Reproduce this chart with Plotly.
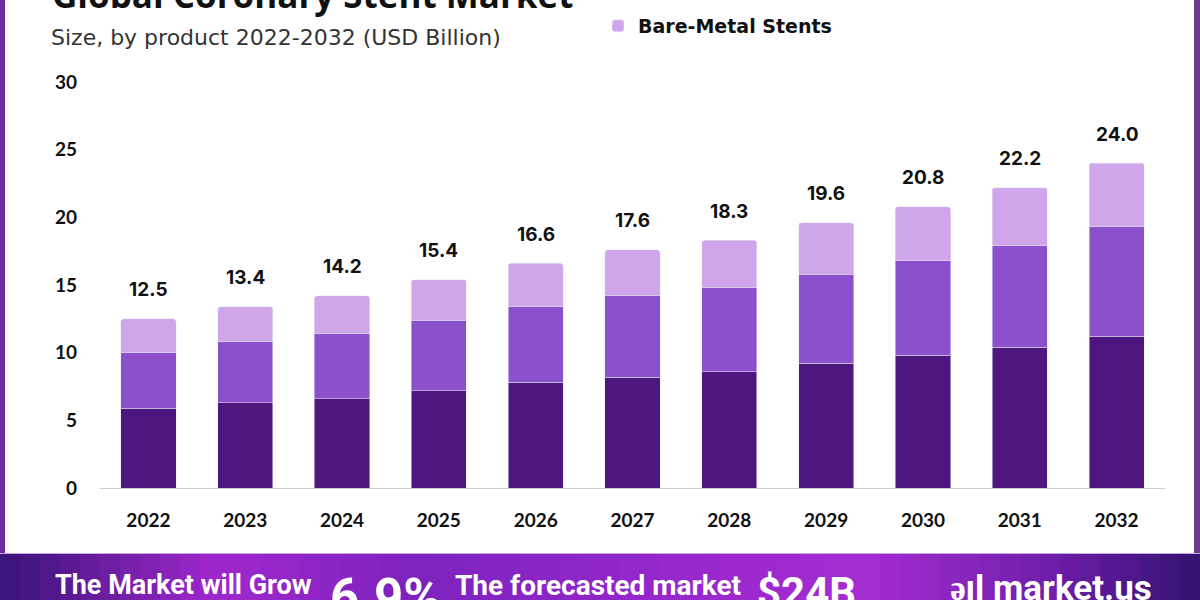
import plotly.graph_objects as go

# ---------------- data ----------------
years = ["2022", "2023", "2024", "2025", "2026", "2027", "2028", "2029", "2030", "2031", "2032"]
drug_eluting = [5.9, 6.3, 6.6, 7.2, 7.8, 8.2, 8.6, 9.2, 9.8, 10.4, 11.2]
bioresorbable = [4.1, 4.5, 4.8, 5.2, 5.6, 6.0, 6.2, 6.6, 7.0, 7.5, 8.1]
bare_metal = [2.5, 2.6, 2.8, 3.0, 3.2, 3.4, 3.5, 3.8, 4.0, 4.3, 4.7]
totals = [12.5, 13.4, 14.2, 15.4, 16.6, 17.6, 18.3, 19.6, 20.8, 22.2, 24.0]
y_ticks = [0, 5, 10, 15, 20, 25, 30]

title = "Global Coronary Stent Market"
subtitle = "Size, by product 2022-2032 (USD Billion)"

# ---------------- layout geometry ----------------
W, H = 1200, 600
ML, MR, MT, MB = 100, 35, 82, 112
PW, PH = W - ML - MR, H - MT - MB


def px2x(px):
    return (px - ML) / PW


def px2y(py):
    return (H - MB - py) / PH


C_DARK = "#4f1680"
C_MED = "#8c50cc"
C_LIGHT = "#d0a6ea"

fig = go.Figure()
fig.add_trace(go.Bar(x=years, y=drug_eluting, name="Drug-Eluting Stents",
                     marker=dict(color=C_DARK), showlegend=False))
fig.add_trace(go.Bar(x=years, y=bioresorbable, name="Bioresorbable Vascular Scaffolds",
                     marker=dict(color=C_MED), showlegend=False))
fig.add_trace(go.Bar(x=years, y=bare_metal, name="Bare-Metal Stents",
                     marker=dict(color=C_LIGHT), showlegend=True))

annotations = []
for i, t in enumerate(totals):
    annotations.append(dict(x=i, y=t, xref="x", yref="y", text=f"{t:.1f}",
                            showarrow=False, yanchor="middle", yshift=29,
                            font=dict(family="Inter", size=19, color="#111111", weight=700)))

# title (cut at top) and subtitle
annotations.append(dict(x=px2x(50), y=px2y(20), xref="paper", yref="paper", text=title,
                        showarrow=False, xanchor="left", yanchor="bottom",
                        font=dict(family="Open Sans", size=35, color="#111111", weight=700)))
annotations.append(dict(x=px2x(49), y=px2y(37), xref="paper", yref="paper", text=subtitle,
                        showarrow=False, xanchor="left", yanchor="middle",
                        font=dict(family="DejaVu Sans", size=22, color="#333333")))

# bottom banner texts (cut at bottom edge)
banner_font = dict(family="Roboto", size=27, color="white", weight=700)
annotations.append(dict(x=px2x(53), y=px2y(567), xref="paper", yref="paper",
                        text="The Market will Grow", showarrow=False, xanchor="left",
                        yanchor="top", font=banner_font))
annotations.append(dict(x=px2x(328), y=px2y(566), xref="paper", yref="paper",
                        text="6.9%", showarrow=False, xanchor="left", yanchor="top",
                        font=dict(family="Roboto", size=51, color="white", weight=700)))
annotations.append(dict(x=px2x(453), y=px2y(567), xref="paper", yref="paper",
                        text="The forecasted market", showarrow=False, xanchor="left",
                        yanchor="top", font=dict(family="Roboto", size=28, color="white", weight=700)))
annotations.append(dict(x=px2x(755), y=px2y(566), xref="paper", yref="paper",
                        text="$24B", showarrow=False, xanchor="left", yanchor="top",
                        font=dict(family="Roboto", size=42, color="white", weight=700)))
annotations.append(dict(x=px2x(948), y=px2y(566), xref="paper", yref="paper",
                        text="ǝıl market.us", showarrow=False, xanchor="left", yanchor="top",
                        font=dict(family="Roboto", size=35, color="white", weight=700)))

# ---------------- shapes: borders and gradient banner ----------------
shapes = []
shapes.append(dict(type="rect", xref="paper", yref="paper", x0=px2x(0), x1=px2x(5),
                   y0=px2y(553), y1=px2y(0), fillcolor="#6c2c9e", line=dict(width=0), layer="below"))
shapes.append(dict(type="rect", xref="paper", yref="paper", x0=px2x(1194), x1=px2x(1200),
                   y0=px2y(553), y1=px2y(0), fillcolor="#6b3a8c", line=dict(width=0), layer="below"))

stops = [(0.0, (58, 20, 120)), (0.18, (160, 40, 205)), (0.35, (125, 35, 190)),
         (0.55, (150, 40, 205)), (0.72, (165, 45, 210)), (0.88, (110, 30, 170)),
         (1.0, (50, 18, 110))]


def grad(f):
    for (a, ca), (b, cb) in zip(stops[:-1], stops[1:]):
        if a <= f <= b:
            t = (f - a) / (b - a)
            return "rgb(%d,%d,%d)" % tuple(int(ca[i] + (cb[i] - ca[i]) * t) for i in range(3))
    return "rgb(50,18,110)"


N = 60
for i in range(N):
    x0 = W * i / N
    x1 = W * (i + 1) / N + 1
    shapes.append(dict(type="rect", xref="paper", yref="paper", x0=px2x(x0), x1=px2x(x1),
                       y0=px2y(600), y1=px2y(554), fillcolor=grad((i + 0.5) / N),
                       line=dict(width=0), layer="below"))
shapes.append(dict(type="line", xref="paper", yref="paper", x0=px2x(0), x1=px2x(1200),
                   y0=px2y(553.5), y1=px2y(553.5), line=dict(color="#c9a6e0", width=1)))

fig.update_layout(
    width=W, height=H,
    margin=dict(l=ML, r=MR, t=MT, b=MB, autoexpand=False),
    paper_bgcolor="white", plot_bgcolor="white",
    barmode="stack", bargap=0.43, barcornerradius=3,
    annotations=annotations, shapes=shapes,
    legend=dict(x=px2x(598), y=px2y(7), xanchor="left", yanchor="top",
                orientation="h", bgcolor="rgba(0,0,0,0)",
                font=dict(family="DejaVu Sans", size=19, color="#111111", weight=700),
                itemwidth=30),
    xaxis=dict(type="category", range=[-0.5, 10.5], showgrid=False, showline=True,
               linecolor="#cccccc", linewidth=1,
               ticks="", tickfont=dict(family="Lato", size=19, color="#111111", weight=700),
               ticklabelstandoff=15, fixedrange=True),
    yaxis=dict(range=[0, 30], tickvals=y_ticks, showgrid=False, zeroline=False,
               showline=False, ticks="",
               tickfont=dict(family="Lato", size=19, color="#111111", weight=700),
               ticklabelstandoff=22, fixedrange=True),
)

fig.write_html("out.html")
